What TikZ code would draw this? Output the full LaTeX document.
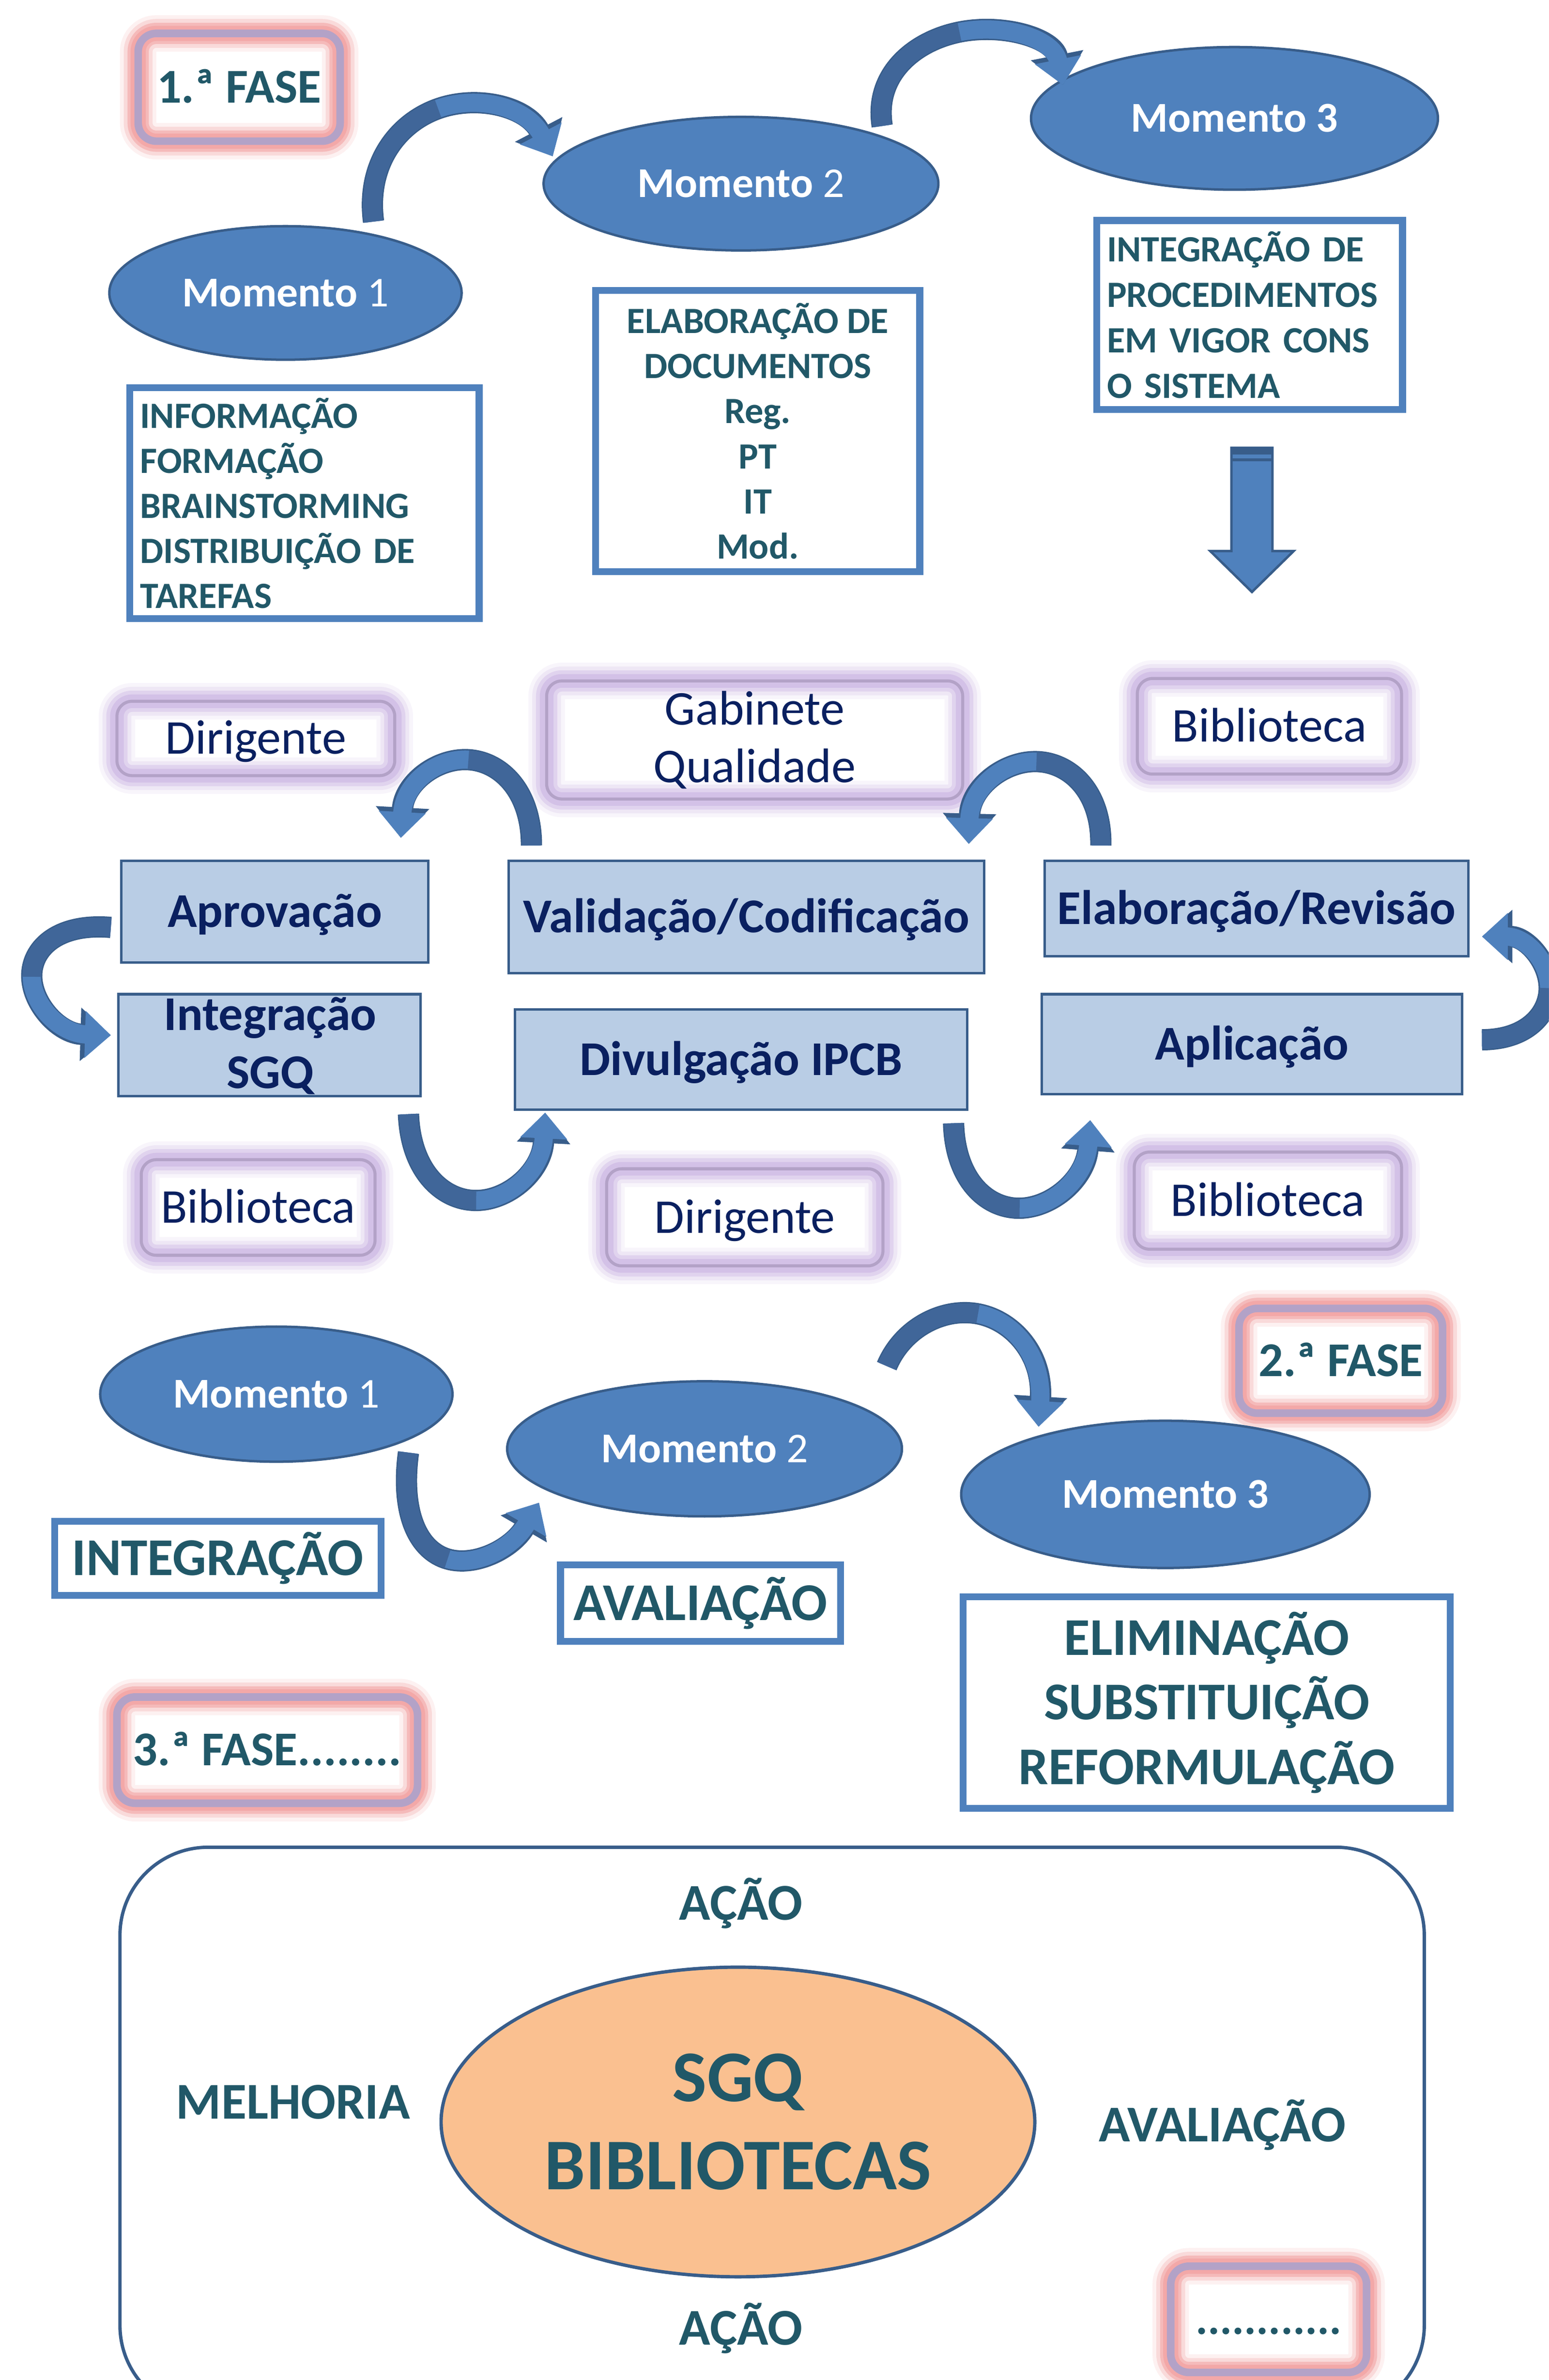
\documentclass[tikz,border=0pt]{standalone}
\usepackage{fontspec}
\setmainfont{Carlito}
\usepackage{tikz}
\usetikzlibrary{positioning}
\usetikzlibrary{shapes.geometric}
\usetikzlibrary{arrows.meta}

\definecolor{tealtxt}{RGB}{33,88,104}
\definecolor{navytxt}{RGB}{10,32,96}
\definecolor{ellfill}{RGB}{79,129,189}
\definecolor{edgeblue}{RGB}{56,93,138}
\definecolor{procfill}{RGB}{185,205,229}
\definecolor{arrowdark}{RGB}{64,102,153}
\definecolor{peach}{RGB}{250,192,144}
\definecolor{purpedge}{RGB}{179,162,199}
\definecolor{lavglow}{RGB}{200,176,225}
\definecolor{pinkglow}{RGB}{243,166,166}

\tikzset{
    oneline/.style={text height=#1, text depth=0pt},
    momento/.style={ellipse, draw=edgeblue, fill=ellfill, line width=0.8pt, inner sep=0pt, text=white, font=\fontsize{14}{17}\selectfont, oneline=9pt},
    tealbox/.style={draw=ellfill, line width=2.3pt, text=tealtxt, font=\bfseries\fontsize{12.2}{14.85}\selectfont},
    bigbox/.style={draw=ellfill, line width=2.3pt, text=tealtxt, font=\bfseries\fontsize{17.5}{21.25}\selectfont},
    procbox/.style={draw=edgeblue, fill=procfill, line width=0.8pt, text=navytxt, font=\bfseries\fontsize{16}{19}\selectfont},
    lavbox/.style={draw=purpedge, line width=1pt, rounded corners=5pt, text=navytxt, font=\fontsize{16}{19}\selectfont,
        preaction={draw=lavglow, line width=12pt, draw opacity=0.12},
        preaction={draw=lavglow, line width=9.5pt, draw opacity=0.2},
        preaction={draw=lavglow, line width=7pt, draw opacity=0.35},
        preaction={draw=lavglow, line width=4.5pt, draw opacity=0.5}},
    fasebox/.style={draw=purpedge, line width=2.5pt, rounded corners=6pt, text=tealtxt, font=\bfseries\fontsize{16}{19}\selectfont, oneline=10.3pt,
        preaction={draw=pinkglow, line width=12pt, draw opacity=0.15},
        preaction={draw=pinkglow, line width=9.5pt, draw opacity=0.3},
        preaction={draw=pinkglow, line width=7pt, draw opacity=0.6},
        preaction={draw=pinkglow, line width=5pt, draw opacity=0.85}},
    cyctxt/.style={text=tealtxt, font=\bfseries\fontsize{17}{20.5}\selectfont, oneline=11pt},
    curv/.style={draw=ellfill, line width=6pt, -{Triangle[width=15pt,length=8.5pt]},
        preaction={draw=edgeblue, line width=7pt, -{Triangle[width=17pt,length=10pt]}}},
    curvdk/.style={draw=arrowdark, line width=6pt},
}

\begin{document}
\begin{tikzpicture}[x=0.5pt, y=-0.5pt]
    \useasboundingbox (0,0) rectangle (1020,1568);
    \fill[white] (0,0) rectangle (1020,1568);
    \clip (0,0) rectangle (1020,1568);

    %1.a fase
    \node[fasebox, minimum width=66.5pt, minimum height=35.5pt] (fase1) at (157.5,57.5) {1.ª FASE};
    %Momentos
    \node[momento, minimum width=116pt, minimum height=44pt] (m1a) at (188,193) {\textbf{Momento} 1};
    \node[momento, minimum width=130pt, minimum height=44pt] (m2a) at (488,121) {\textbf{Momento} 2};
    \node[momento, minimum width=134pt, minimum height=47pt, font=\bfseries\fontsize{14}{17}\selectfont] (m3a) at (813,78) {Momento 3};
    %Info
    \node[tealbox, minimum width=115pt, minimum height=76pt, text width=108.2pt, inner xsep=3.4pt, align=left] (info) at (200.5,331.5) {INFORMAÇÃO\\FORMAÇÃO\\BRAINSTORMING\\DISTRIBUIÇÃO DE\\TAREFAS};
    %Documentos
    \node[tealbox, minimum width=106.7pt, minimum height=92.7pt, align=center] (docs) at (499,284) {ELABORAÇÃO DE\\DOCUMENTOS\\Reg.\\PT\\IT\\Mod.};
    %Procedimentos
    \node[tealbox, minimum width=100.7pt, minimum height=62.2pt, text width=94pt, inner xsep=3.35pt, align=left, font=\bfseries\fontsize{12.2}{15}\selectfont] (proc) at (823,207.5) {INTEGRAÇÃO DE\\PROCEDIMENTOS\\EM VIGOR CONS\\O SISTEMA};

    %Momento 1 - Momento 2
    \coordinate (a1s) at (246,146);
    \coordinate (a1m) at (288.5,71.6);
    \coordinate (a1e) at (364,103);
    \draw[curv] (a1s) .. controls +(-5,-38) and +(-26.5,9.4) .. (a1m) .. controls +(26.5,-9.4) and +(-17,-32.5) .. (a1e);
    \draw[curvdk] (a1s) .. controls +(-5,-38) and +(-26.5,9.4) .. (a1m);
    %Momento 2 - Momento 3
    \coordinate (a2s) at (581,83);
    \coordinate (a2m) at (631.9,21.1);
    \coordinate (a2e) at (700,56);
    \draw[curv] (a2s) .. controls +(-5.5,-34) and +(-29.6,5.9) .. (a2m) .. controls +(29.6,-5.9) and +(-6,-30.5) .. (a2e);
    \draw[curvdk] (a2s) .. controls +(-5.5,-34) and +(-29.6,5.9) .. (a2m);

    %Seta para baixo
    \coordinate (darr) at (824.5,295);
    \draw[fill=ellfill, draw=edgeblue, line width=0.8pt] (darr) ++(-13.5,0) -- ++(27,0) -- ++(0,68) -- ++(14,0) -- ++(-27.5,27) -- ++(-27.5,-27) -- ++(14,0) -- cycle;
    \fill[edgeblue] (darr) ++(-13.5,0) rectangle ++(27,4.5);
    \fill[edgeblue] (darr) ++(-13.5,7) rectangle ++(27,2);

    %Intervenientes
    \node[lavbox, minimum width=91.5pt, minimum height=24.5pt, oneline=10.3pt] (dir1) at (168.5,486.5) {Dirigente};
    \node[lavbox, minimum width=137pt, minimum height=35.5pt, align=center] (gab) at (497,487.5) {Gabinete\\Qualidade};
    \node[lavbox, minimum width=87pt, minimum height=31.5pt, oneline=10.3pt] (bib1) at (836,478.5) {Biblioteca};
    \node[lavbox, minimum width=77pt, minimum height=31.5pt, oneline=10.3pt] (bib2) at (170,795.5) {Biblioteca};
    \node[lavbox, minimum width=91pt, minimum height=32pt, oneline=10.3pt] (dir2) at (490.5,802) {Dirigente};
    \node[lavbox, minimum width=88pt, minimum height=32pt, oneline=10.3pt] (bib3) at (835,791) {Biblioteca};

    %Etapas
    \node[procbox, minimum width=101pt, minimum height=33.5pt, oneline=10.3pt] (aprov) at (181,600.5) {Aprovação};
    \node[procbox, minimum width=156.5pt, minimum height=37pt, oneline=10.3pt] (valid) at (491.5,604) {Validação/Codificação};
    \node[procbox, minimum width=139.5pt, minimum height=31.5pt, oneline=10.3pt] (elab) at (827.5,598.5) {Elaboração/Revisão};
    \node[procbox, minimum width=99.5pt, minimum height=33.5pt] (integ) at (177.5,688.5) {};
    \node[text=navytxt, font=\bfseries\fontsize{16}{19}\selectfont, align=center] (integtxt) at (178,689) {Integração\\SGQ};
    \node[procbox, minimum width=149pt, minimum height=33pt, oneline=10.3pt] (divul) at (488,698) {Divulgação IPCB};
    \node[procbox, minimum width=138.5pt, minimum height=33pt, oneline=10.3pt] (aplic) at (824.5,688) {Aplicação};

    %Validacao - Aprovacao
    \coordinate (c1s) at (350,557);
    \coordinate (c1m) at (308.5,500.5);
    \coordinate (c1e) at (264,552);
    \draw[curv] (c1s) .. controls +(0,-36) and +(21,1.25) .. (c1m) .. controls +(-21,-1.25) and +(2,-36) .. (c1e);
    \draw[curvdk] (c1s) .. controls +(0,-36) and +(21,1.25) .. (c1m);
    %Elaboracao - Validacao
    \coordinate (c2s) at (725,557);
    \coordinate (c2m) at (682.6,501.75);
    \coordinate (c2e) at (638,556);
    \draw[curv] (c2s) .. controls +(0.5,-36) and +(21.6,0.5) .. (c2m) .. controls +(-21.6,-0.5) and +(1,-37) .. (c2e);
    \draw[curvdk] (c2s) .. controls +(0.5,-36) and +(21.6,0.5) .. (c2m);
    %Aprovacao - Integracao
    \coordinate (c3s) at (73,611);
    \coordinate (c3m) at (20.9,643.5);
    \coordinate (c3e) at (73,682);
    \draw[curv] (c3s) .. controls +(-35.5,-3) and +(-0.4,-18.25) .. (c3m) .. controls +(0.4,18.25) and +(-34,-1) .. (c3e);
    \draw[curvdk] (c3s) .. controls +(-35.5,-3) and +(-0.4,-18.25) .. (c3m);
    %Aplicacao - Elaboracao
    \coordinate (c4s) at (976,685);
    \coordinate (c4m) at (1020.25,651);
    \coordinate (c4e) at (976,617);
    \draw[curv] (c4s) .. controls +(29.5,0) and +(0,17) .. (c4m) .. controls +(0,-17) and +(29.5,0) .. (c4e);
    \draw[curvdk] (c4s) .. controls +(29.5,0) and +(0,17) .. (c4m);
    %Integracao - Divulgacao
    \coordinate (c5s) at (269,734);
    \coordinate (c5m) at (313.6,790.9);
    \coordinate (c5e) at (359,733);
    \draw[curv] (c5s) .. controls +(1.5,38) and +(-21.6,0.1) .. (c5m) .. controls +(21.6,-0.1) and +(-2,38.5) .. (c5e);
    \draw[curvdk] (c5s) .. controls +(1.5,38) and +(-21.6,0.1) .. (c5m);
    %Divulgacao - Aplicacao
    \coordinate (c6s) at (628,740);
    \coordinate (c6m) at (671.5,796);
    \coordinate (c6e) at (718,738);
    \draw[curv] (c6s) .. controls +(1,37.5) and +(-21.5,0.25) .. (c6m) .. controls +(21.5,-0.25) and +(-3,38.5) .. (c6e);
    \draw[curvdk] (c6s) .. controls +(1,37.5) and +(-21.5,0.25) .. (c6m);

    %2.a fase
    \node[fasebox, minimum width=67pt, minimum height=34.5pt] (fase2) at (883,896.5) {2.ª FASE};
    \node[momento, minimum width=116pt, minimum height=44.5pt] (m1b) at (182,918.5) {\textbf{Momento} 1};
    \node[momento, minimum width=130pt, minimum height=44.5pt] (m2b) at (464,954.5) {\textbf{Momento} 2};
    \node[momento, minimum width=134.5pt, minimum height=48.5pt, font=\bfseries\fontsize{14}{17}\selectfont] (m3b) at (767.5,984.5) {Momento 3};
    \node[bigbox, minimum width=107.5pt, minimum height=24.4pt, oneline=11.3pt] (integb) at (143.5,1026.6) {INTEGRAÇÃO};
    \node[bigbox, minimum width=92.2pt, minimum height=25.2pt, oneline=11.3pt] (avalb) at (461.3,1056.2) {AVALIAÇÃO};
    \node[bigbox, minimum width=160.4pt, minimum height=69.6pt, align=center] (elimb) at (794.7,1121.7) {ELIMINAÇÃO\\SUBSTITUIÇÃO\\REFORMULAÇÃO};

    %Momento 1 - Momento 2
    \coordinate (d1s) at (269,957);
    \coordinate (d1m) at (294.75,1027.1);
    \coordinate (d1e) at (355,990);
    \draw[curv] (d1s) .. controls +(-5.5,41.5) and +(-18.5,-5.4) .. (d1m) .. controls +(18.5,5.4) and +(-17.5,30) .. (d1e);
    \draw[curvdk] (d1s) .. controls +(-5.5,41.5) and +(-18.5,-5.4) .. (d1m);
    %Momento 2 - Momento 3
    \coordinate (d2s) at (584,900);
    \coordinate (d2m) at (644.1,865.6);
    \coordinate (d2e) at (684,940);
    \draw[curv] (d2s) .. controls +(10.5,-25) and +(-23.1,-4.4) .. (d2m) .. controls +(23.1,4.4) and +(3,-47.5) .. (d2e);
    \draw[curvdk] (d2s) .. controls +(10.5,-25) and +(-23.1,-4.4) .. (d2m);

    %3.a fase
    \node[fasebox, minimum width=99pt, minimum height=35pt] (fase3) at (176,1153) {3.ª FASE........};

    %Ciclo
    \node[draw=edgeblue, line width=1.1pt, rounded corners=29pt, minimum width=429.5pt, minimum height=186.5pt] (cyc) at (508.5,1403.5) {};
    \node[ellipse, draw=edgeblue, fill=peach, line width=1.1pt, inner sep=0pt, minimum width=195.5pt, minimum height=102pt, text=tealtxt, font=\bfseries\fontsize{24}{29}\selectfont, align=center] (sgq) at (486,1398) {SGQ\\BIBLIOTECAS};
    \node[cyctxt] (acao1) at (488,1254) {AÇÃO};
    \node[cyctxt] (acao2) at (488,1534) {AÇÃO};
    \node[cyctxt] (melh) at (193,1385) {MELHORIA};
    \node[cyctxt] (avalc) at (805,1400) {AVALIAÇÃO};
    \node[fasebox, minimum width=64.5pt, minimum height=35pt, font=\bfseries\fontsize{15}{18}\selectfont, oneline=9.7pt] (dots) at (835.5,1528) {............};

\end{tikzpicture}
\end{document}
